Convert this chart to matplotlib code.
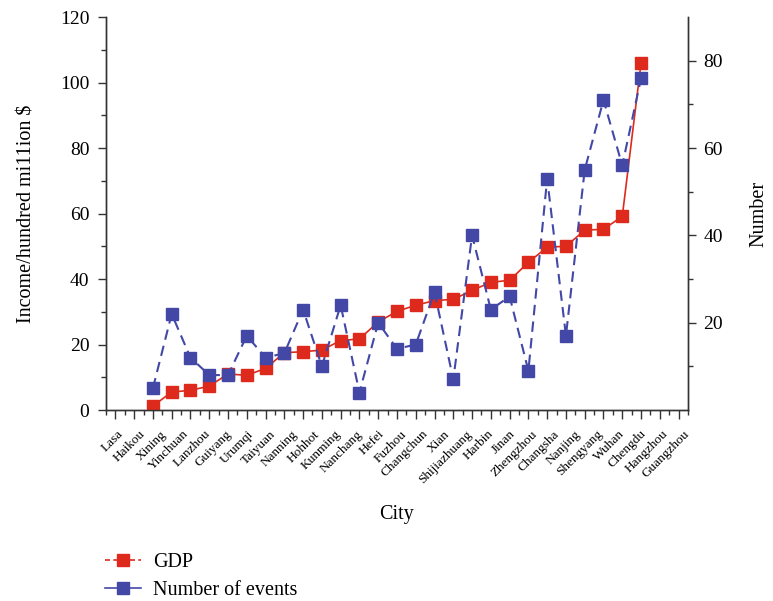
#!/usr/bin/env python3
# -*- coding: utf-8 -*-

import numpy as np
import matplotlib
matplotlib.use("Agg")
import matplotlib.pyplot as plt
from matplotlib.lines import Line2D
from matplotlib.ticker import MultipleLocator

out_path = "out.png"

cities = ["Lasa", "Haikou", "Xining", "Yinchuan", "Lanzhou", "Guiyang", "Urumqi",
          "Taiyuan", "Nanning", "Hohhot", "Kunming", "Nanchang", "Hefei", "Fuzhou",
          "Changchun", "Xian", "Shijiazhuang", "Harbin", "Jinan", "Zhengzhou",
          "Changsha", "Nanjing", "Shengyang", "Wuhan", "Chengdu", "Hangzhou",
          "Guangzhou"]

# income, hundred million $
gdp = [1.2, 5.5, 6.0, 7.3, 11.0, 10.6, 12.7, 17.5, 17.8, 18.3, 21.2, 21.7, 26.9,
       30.1, 32.0, 33.4, 33.8, 36.5, 39.0, 39.6, 45.1, 49.7, 50.0, 54.9, 55.2,
       59.1, 105.9]

# number of events
events = [5, 22, 12, 8, 8, 17, 12, 13, 23, 10, 24, 4, 20, 14, 15, 27, 7, 40, 23,
          26, 9, 53, 17, 55, 71, 56, 76]

red  = "#dd2a1c"
blue = "#4348a7"

plt.rcParams['font.family'] = ['Liberation Serif', 'DejaVu Serif']
plt.rcParams['axes.linewidth'] = 1.0
plt.rcParams['axes.edgecolor'] = "#333333"


def style_ticks(axis):
    axis.tick_params(axis='y', which='major', direction='out', length=6, width=1.0,
                     labelsize=14, pad=5, color="#333333")
    axis.tick_params(axis='y', which='minor', direction='out', length=3.6, width=1.0,
                     color="#333333")


def plot_chart():
    fig = plt.figure(figsize=(7.73, 6.01), dpi=100)
    ax = fig.add_axes([0.1371, 0.3178, 0.7529, 0.6539])

    x = np.arange(len(cities))
    ax.plot(x, gdp, color=red, lw=1.2, marker='s', ms=8, mec=red, mfc=red,
            zorder=3)
    ax.set_xlim(-2.5, 28.5)
    ax.set_ylim(0, 120)
    ax.yaxis.set_major_locator(MultipleLocator(20))
    ax.yaxis.set_minor_locator(MultipleLocator(10))
    ax.xaxis.set_major_locator(MultipleLocator(1))
    ax.xaxis.set_minor_locator(MultipleLocator(0.5))
    ax.tick_params(axis='x', which='major', direction='out', length=6.5, width=1.0,
                   labelbottom=False, color="#333333")
    ax.tick_params(axis='x', which='minor', direction='out', length=3.6, width=1.0,
                   color="#333333")
    style_ticks(ax)
    ax.tick_params(axis='y', pad=6)
    ax.spines['top'].set_visible(False)
    ax.set_ylabel("Income/hundred mi11ion $", fontsize=14.5, labelpad=17)

    ax2 = ax.twinx()
    ax2.plot(x, events, color=blue, lw=1.5, ls=(0, (5, 3)), marker='s', ms=8,
             mec=blue, mfc=blue, zorder=3)
    ax2.set_ylim(0, 90)
    ax2.set_yticks([20, 40, 60, 80])
    ax2.set_yticks([10, 30, 50, 70], minor=True)
    style_ticks(ax2)
    ax2.spines['top'].set_visible(False)
    ax2.set_ylabel("Number", fontsize=14.5, labelpad=19)

    # city names sit on their own scale, as in the source figure
    ax3 = ax.twiny()
    ax3.set_xlim(-0.5, 26.2)
    ax3.xaxis.set_ticks_position('bottom')
    ax3.xaxis.set_label_position('bottom')
    ax3.set_xticks(np.arange(len(cities)))
    ax3.set_xticklabels(cities, rotation=45, ha='right', rotation_mode='anchor',
                        fontsize=9.5)
    ax3.tick_params(axis='x', length=0, pad=13)
    for s in ax3.spines.values():
        s.set_visible(False)
    ax3.set_xlabel("City", fontsize=14.5, labelpad=14)

    handles = [
        Line2D([], [], color=red, lw=1.2, ls=(0, (3, 2)), marker='s', ms=8,
               mec=red, mfc=red),
        Line2D([], [], color=blue, lw=1.2, marker='s', ms=8, mec=blue, mfc=blue),
    ]
    fig.legend(handles, ["GDP", "Number of events"], loc='upper left',
               bbox_to_anchor=(0.136, 0.08), frameon=False, fontsize=14.5,
               handlelength=1.8, handletextpad=0.6, labelspacing=0.45,
               borderaxespad=0, borderpad=0)

    fig.savefig(out_path, dpi=100)


if __name__ == '__main__':
    plot_chart()
